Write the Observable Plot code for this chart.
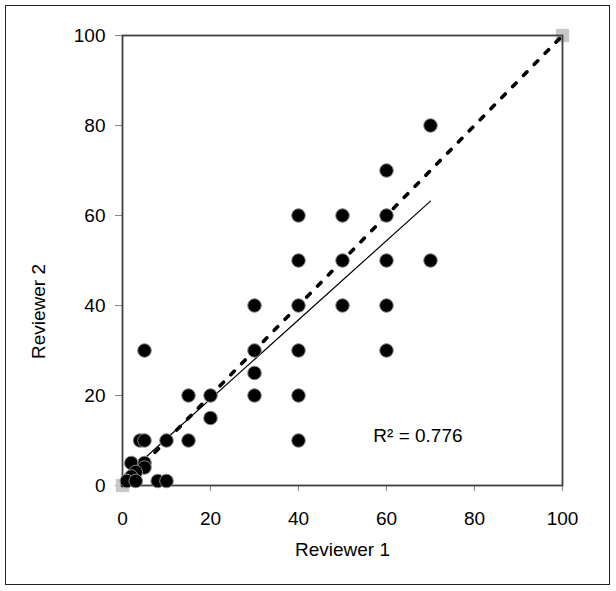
<!DOCTYPE html>
<html>
<head>
<meta charset="utf-8">
<script src="https://cdn.jsdelivr.net/npm/d3@7"></script>
<script src="https://cdn.jsdelivr.net/npm/@observablehq/plot@0.6"></script>
<style>
  html, body { margin: 0; padding: 0; background: #fff; }
  #wrap { position: relative; width: 616px; height: 591px; }
  #border { position: absolute; left: 5px; top: 5px; width: 603px; height: 578px; border: 1.5px solid #222; pointer-events: none; }
</style>
</head>
<body>
<div id="wrap"><div id="border"></div></div>
<script>
// Scatter points: Reviewer 1 score vs Reviewer 2 score
const reviewer1 = [70, 60, 40, 50, 60, 40, 50, 60, 70, 30, 40, 50, 60, 30, 40, 60, 30, 5, 15, 20, 30, 40, 20, 4, 5, 10, 15, 40, 2, 5, 5, 3, 2, 1, 3, 8, 10];
const reviewer2 = [80, 70, 60, 60, 60, 50, 50, 50, 50, 40, 40, 40, 40, 30, 30, 30, 25, 30, 20, 20, 20, 20, 15, 10, 10, 10, 10, 10, 5, 5, 4, 3, 2, 1, 1, 1, 1];

// Linear trendline (solid) endpoints
const fitX = [2, 70];
const fitY = [3.4, 63.2];

// Line of equality (dashed) with grey end markers
const equalX = [0, 100];
const equalY = [0, 100];

const xTicks = [0, 20, 40, 60, 80, 100];
const yTicks = [0, 20, 40, 60, 80, 100];
const xTitle = "Reviewer 1";
const yTitle = "Reviewer 2";
const r2Label = ["R² = 0.776"];
const r2Pos = [57, 11];

const points = reviewer1.map((x, i) => ({x, y: reviewer2[i]}));
const fit = fitX.map((x, i) => ({x, y: fitY[i]}));
const equal = equalX.map((x, i) => ({x, y: equalY[i]}));

const font = "'Liberation Sans', Arial, sans-serif";

const chart = Plot.plot({
  width: 616,
  height: 591,
  marginLeft: 122,
  marginRight: 54,
  marginTop: 35,
  marginBottom: 106,
  style: {fontFamily: font, fontSize: "19px", color: "#000", background: "transparent"},
  x: {domain: [0, 100]},
  y: {domain: [0, 100]},
  marks: [
    Plot.axisX({ticks: xTicks, tickSize: 6, tickPadding: 20, stroke: "#888", label: null, fontSize: 19}),
    Plot.axisY({ticks: yTicks, tickSize: 7, tickPadding: 10, stroke: "#888", label: null, fontSize: 19}),
    Plot.dot(equal, {x: "x", y: "y", symbol: "square", r: 7.5, fill: "#c8c8c8", stroke: "none"}),
    Plot.frame({stroke: "#404040", strokeWidth: 1.8}),
    Plot.line(equal, {x: "x", y: "y", stroke: "#000", strokeWidth: 3.6, strokeDasharray: "5,10.5"}),
    Plot.line(fit, {x: "x", y: "y", stroke: "#000", strokeWidth: 1.2}),
    Plot.dot(points, {x: "x", y: "y", r: 6.8, fill: "#000", stroke: "#888", strokeWidth: 1}),
    Plot.text(r2Label, {x: () => r2Pos[0], y: () => r2Pos[1], text: d => d, textAnchor: "start", fontSize: 19}),
    Plot.text([xTitle], {frameAnchor: "bottom", dy: 64, text: d => d, fontSize: 19, lineAnchor: "middle"}),
    Plot.text([yTitle], {frameAnchor: "left", dx: -84, dy: 51, rotate: -90, text: d => d, fontSize: 19, textAnchor: "middle", lineAnchor: "middle"})
  ]
});
chart.style.position = "absolute";
chart.style.left = "0px";
chart.style.top = "0px";
document.getElementById("wrap").appendChild(chart);
</script>
</body>
</html>
